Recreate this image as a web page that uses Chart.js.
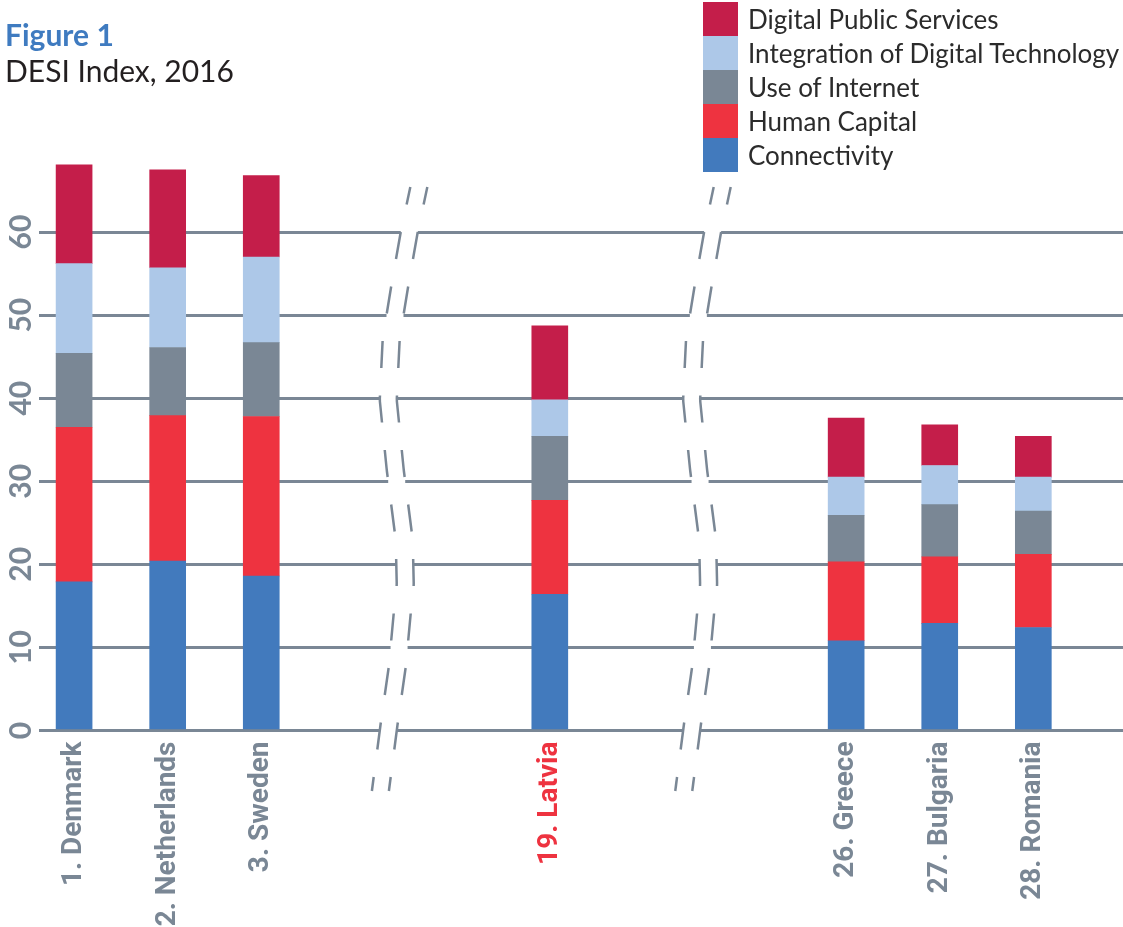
<!DOCTYPE html>
<html>
<head>
<meta charset="utf-8">
<script src="https://cdn.jsdelivr.net/npm/chart.js@4.4.1/dist/chart.umd.min.js"></script>
<style>
  body { margin: 0; background: #fff; }
  .page { position: relative; width: 1123px; height: 927px; overflow: hidden; }
  .page canvas { position: absolute; left: 0; top: 0; }
  .title { position: absolute; left: 5px; top: 16px; font-family: Lato, sans-serif; }
  .title b { display: block; color: #3f7bc0; font-size: 30px; line-height: 36px; }
  .title span { display: block; color: #231f20; font-size: 30px; line-height: 37px; }
  .legend { position: absolute; left: 703px; top: 2px; font-family: Lato, sans-serif; font-size: 26px; color: #2b2b2b; }
  .legend div { height: 34px; display: flex; align-items: center; white-space: nowrap; }
  .legend i { display: block; width: 35px; height: 34px; margin-right: 10px; }
</style>
</head>
<body>
<div class="page">
  <canvas id="desi" width="1123" height="927"></canvas>
  <div class="title"><b>Figure 1</b><span>DESI Index, 2016</span></div>
  <div class="legend" id="legend"></div>
</div>
<script>
// DESI 2016 score per dimension
const countries = ['1. Denmark', '2. Netherlands', '3. Sweden', '19. Latvia', '26. Greece', '27. Bulgaria', '28. Romania'];
const connectivity = [17.9, 20.4, 18.6, 16.4, 10.8, 12.9, 12.4];
const humanCapital = [18.6, 17.5, 19.2, 11.3, 9.5, 8.0, 8.8];
const useOfInternet = [8.9, 8.2, 8.9, 7.7, 5.6, 6.3, 5.2];
const integration = [10.8, 9.6, 10.3, 4.4, 4.6, 4.7, 4.1];
const publicServices = [11.9, 11.8, 9.8, 8.9, 7.1, 4.9, 4.9];
const yTicks = [0, 10, 20, 30, 40, 50, 60];
const highlight = '19. Latvia';

// the x axis is broken, so bars sit on a fine category grid with empty slots
const slotCount = 139;
const slots = [4, 16, 28, 65, 103, 115, 127];
const breakSlots = [46.4, 85.3];

const grey = '#7a8795';
const series = [
  { label: 'Connectivity', data: connectivity, color: '#427abd' },
  { label: 'Human Capital', data: humanCapital, color: '#ee3340' },
  { label: 'Use of Internet', data: useOfInternet, color: '#7a8795' },
  { label: 'Integration of Digital Technology', data: integration, color: '#adc8e8' },
  { label: 'Digital Public Services', data: publicServices, color: '#c41e4a' },
];

const labels = new Array(slotCount).fill('');
slots.forEach((s, i) => { labels[s] = countries[i]; });

function spread(values) {
  const out = new Array(slotCount).fill(null);
  slots.forEach((s, i) => { out[s] = values[i]; });
  return out;
}

// legend, top entry first
document.getElementById('legend').innerHTML = series.slice().reverse()
  .map(s => `<div><i style="background:${s.color}"></i>${s.label}</div>`).join('');

// wavy "break" marks: offset of the left stroke from the break centre, by canvas y
const breakCurve = [[185, 6], [232, -4], [283, -13], [338, -22], [400, -25], [470, -18],
  [540, -9], [585, -8], [613, -11], [667, -16], [723, -24], [792, -33]];

function curveX(y) {
  if (y <= breakCurve[0][0]) return breakCurve[0][1];
  for (let i = 1; i < breakCurve.length; i++) {
    const [y1, x1] = breakCurve[i];
    const [y0, x0] = breakCurve[i - 1];
    if (y <= y1) return x0 + (x1 - x0) * (y - y0) / (y1 - y0);
  }
  return breakCurve[breakCurve.length - 1][1];
}

const breakPlugin = {
  id: 'axisBreaks',
  afterDatasetsDraw(chart) {
    const { ctx, scales: { x, y } } = chart;
    const top = 187, bottom = 791, gap = 17;
    ctx.save();
    breakSlots.forEach(s => {
      const cx = x.getPixelForValue(s);
      ctx.fillStyle = '#fff';
      yTicks.forEach(v => {
        const py = y.getPixelForValue(v);
        ctx.fillRect(cx + curveX(py), py - 3, gap, 6);
      });
      ctx.strokeStyle = grey;
      ctx.lineWidth = 2.5;
      [0, gap].forEach(dx => {
        for (let ys = 177.5; ys < bottom; ys += 54.5) {
          const a = Math.max(ys, top), b = Math.min(ys + 27, bottom);
          if (b <= a) continue;
          ctx.beginPath();
          ctx.moveTo(cx + dx + curveX(a), a);
          for (let yy = a + 3; yy < b; yy += 3) ctx.lineTo(cx + dx + curveX(yy), yy);
          ctx.lineTo(cx + dx + curveX(b), b);
          ctx.stroke();
        }
      });
    });
    ctx.restore();
  }
};

const yLabelPlugin = {
  id: 'yLabels',
  afterDraw(chart) {
    const { ctx, scales: { y } } = chart;
    ctx.save();
    ctx.font = 'bold 30px Lato';
    ctx.fillStyle = grey;
    ctx.textAlign = 'center';
    ctx.textBaseline = 'middle';
    yTicks.forEach(v => {
      ctx.save();
      ctx.translate(21, y.getPixelForValue(v));
      ctx.rotate(-Math.PI / 2);
      ctx.fillText(String(v), 0, 0);
      ctx.restore();
    });
    ctx.restore();
  }
};

function draw() {
  new Chart(document.getElementById('desi'), {
    type: 'bar',
    data: {
      labels,
      datasets: series.map(s => ({
        label: s.label,
        data: spread(s.data),
        backgroundColor: s.color,
        borderWidth: 0,
        barThickness: 36,
      }))
    },
    options: {
      responsive: false,
      animation: false,
      devicePixelRatio: 1,
      layout: { padding: { left: 39, top: 149, right: 0, bottom: 0 } },
      plugins: {
        legend: { display: false },
        tooltip: { enabled: false },
      },
      scales: {
        x: {
          stacked: true,
          grid: { display: false, drawTicks: false },
          border: { display: false },
          ticks: {
            autoSkip: false,
            minRotation: 90,
            maxRotation: 90,
            padding: 11,
            font: { family: 'Roboto', weight: 'bold', size: 28 },
            color: ctx => ctx.tick && ctx.tick.label === highlight ? '#ee3340' : grey,
          },
          afterFit: s => {
            s.height = 196.5;
            s.paddingLeft = 0;
            s.paddingRight = 0;
          },
        },
        y: {
          stacked: true,
          min: 0,
          max: 70,
          ticks: { display: false, stepSize: 10 },
          grid: {
            color: ctx => ctx.tick && ctx.tick.value > 60 ? 'rgba(0,0,0,0)' : grey,
            lineWidth: 3,
            drawTicks: false,
          },
          border: { display: false },
          afterFit: s => {
            s.width = 0;
            s.paddingTop = 0;
            s.paddingBottom = 0;
          },
        }
      }
    },
    plugins: [breakPlugin, yLabelPlugin]
  });
}

Promise.all([
  document.fonts.load('bold 28px Roboto'),
  document.fonts.load('bold 30px Lato'),
]).catch(() => {}).then(draw);
</script>
</body>
</html>
